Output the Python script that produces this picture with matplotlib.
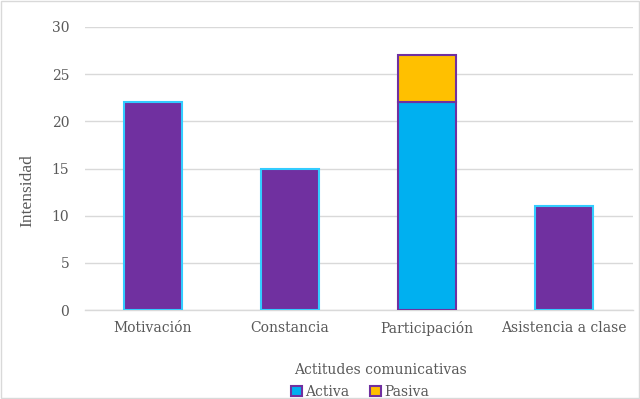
import matplotlib
matplotlib.use("Agg")
import matplotlib.pyplot as plt
from matplotlib.patches import Patch, Rectangle

categories = ["Motivación", "Constancia", "Participación", "Asistencia a clase"]
activa = [22, 15, 22, 11]
pasiva = [0, 0, 5, 0]
yticks = [0, 5, 10, 15, 20, 25, 30]

purple = "#7030A0"
cyan = "#00B0F0"
orange = "#FFC000"
edge_cyan = "#33CCFF"

fig = plt.figure(figsize=(6.4, 3.99), dpi=100)
fig.patches.append(Rectangle((0.002, 0.002), 0.996, 0.996, transform=fig.transFigure,
                             fill=False, edgecolor="#d9d9d9", linewidth=1))
ax = fig.add_axes([84.5/640, 1 - 310/399, (632.5-84.5)/640, (310-27)/399])

x = list(range(len(categories)))
fills = [purple, purple, cyan, purple]
edges = [edge_cyan, edge_cyan, purple, edge_cyan]
ax.bar(x, activa, width=0.42, color=fills, edgecolor=edges, linewidth=1.5, zorder=3)
ax.bar(x, pasiva, bottom=activa, width=0.42, color=orange,
       edgecolor=[purple if p > 0 else "none" for p in pasiva], linewidth=1.5, zorder=3)

ax.set_xlim(-0.5, len(categories) - 0.5)
ax.set_ylim(0, 30)
ax.set_yticks(yticks)
ax.yaxis.grid(True, color="#d9d9d9", linewidth=1, zorder=0)
for s in ["top", "right", "left"]:
    ax.spines[s].set_visible(False)
ax.spines["bottom"].set_color("#d9d9d9")
ax.spines["bottom"].set_linewidth(1)
ax.tick_params(axis="both", length=0, colors="#595959", labelsize=10)
ax.tick_params(axis="y", pad=11)
ax.tick_params(axis="x", pad=8)
ax.set_xticks(x)
ax.set_xticklabels(categories, family="DejaVu Serif", color="#595959")
for lab in ax.get_yticklabels():
    lab.set_family("DejaVu Serif")

fig.text(27/640, 1 - 191/399, "Intensidad", rotation=90, ha="center", va="center",
         family="Liberation Serif", fontsize=12.5, color="#595959")
fig.text(380/640, 1 - 370/399, "Actitudes comunicativas", ha="center", va="center",
         family="DejaVu Serif", fontsize=10, color="#595959")

handles = [Patch(facecolor=cyan, edgecolor=purple, linewidth=1.5, label="Activa"),
           Patch(facecolor=orange, edgecolor=purple, linewidth=1.5, label="Pasiva")]
leg = fig.legend(handles=handles, loc="center", bbox_to_anchor=(360/640, 1 - 392/399),
                 ncol=2, frameon=False, handlelength=0.8, handleheight=0.8,
                 handletextpad=0.2, columnspacing=1.5,
                 prop={"family": "DejaVu Serif", "size": 10})
for t in leg.get_texts():
    t.set_color("#595959")

fig.savefig("out.png", dpi=100)
